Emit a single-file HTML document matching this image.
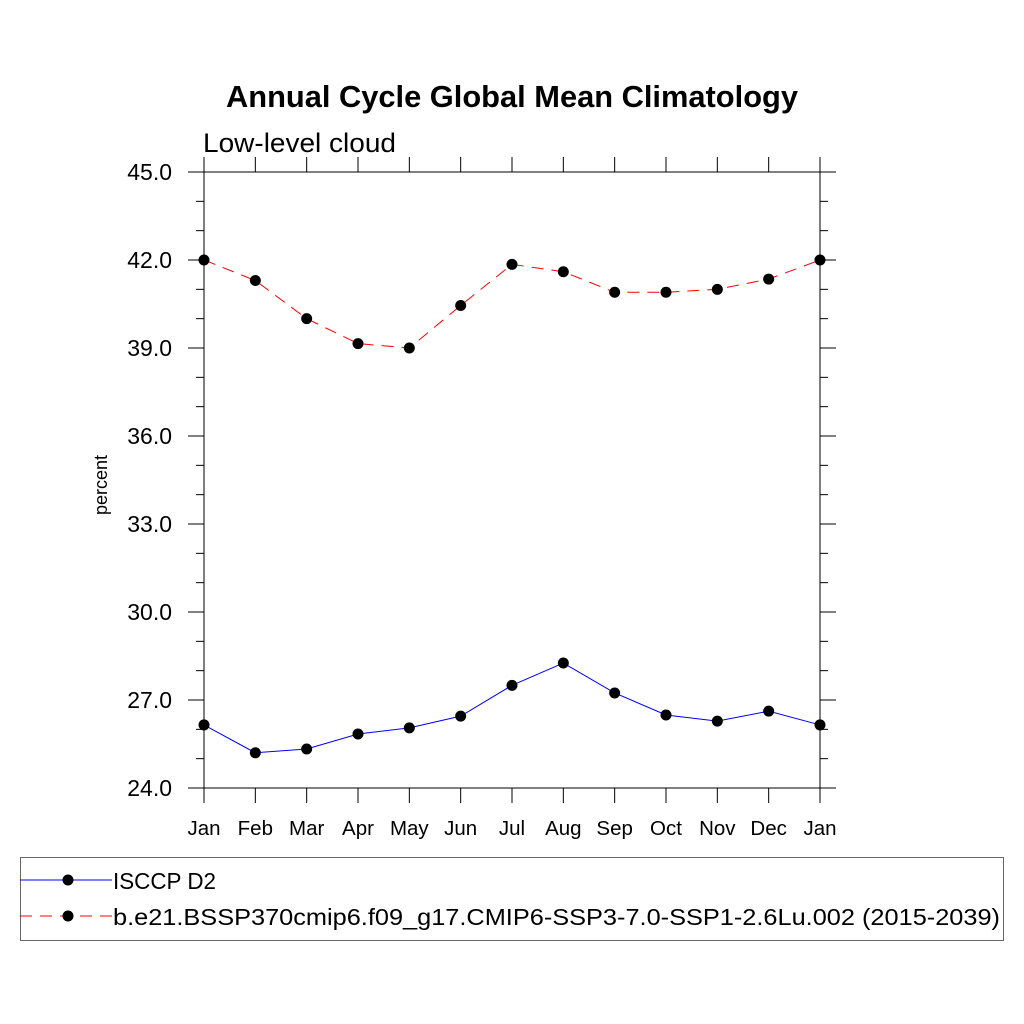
<!DOCTYPE html>
<html><head><meta charset="utf-8"><style>
html,body{margin:0;padding:0;background:#fff;}
svg{display:block;font-family:"Liberation Sans",sans-serif;}
</style></head><body>
<svg id="chart" width="1024" height="1024" viewBox="0 0 1024 1024">
<text x="512" y="107" text-anchor="middle" font-size="30.5" font-weight="bold" textLength="572" lengthAdjust="spacingAndGlyphs">Annual Cycle Global Mean Climatology</text>
<text x="203" y="152" font-size="27" textLength="193" lengthAdjust="spacingAndGlyphs">Low-level cloud</text>
<text transform="translate(107,485) rotate(-90)" text-anchor="middle" font-size="18">percent</text>
<g id="axes"></g>
<g id="series"></g>
<rect x="20.5" y="857.5" width="983" height="83" fill="none" stroke="#666" stroke-width="1"/>
<g>
<line x1="20" y1="880" x2="112" y2="880" stroke="#0000ff" stroke-width="1"/>
<circle cx="68" cy="880" r="5.5" fill="#000"/>
<text x="113" y="889" font-size="23" textLength="103" lengthAdjust="spacingAndGlyphs">ISCCP D2</text>
</g>
<g>
<line x1="20" y1="916" x2="112" y2="916" stroke="#ff0000" stroke-width="1" stroke-dasharray="12,8"/>
<circle cx="68" cy="916" r="5.5" fill="#000"/>
<text x="113" y="925" font-size="23" textLength="887" lengthAdjust="spacingAndGlyphs">b.e21.BSSP370cmip6.f09_g17.CMIP6-SSP3-7.0-SSP1-2.6Lu.002 (2015-2039)</text>
</g>
</svg>
<script>
const months = ["Jan","Feb","Mar","Apr","May","Jun","Jul","Aug","Sep","Oct","Nov","Dec","Jan"];
const isccp = [26.15,25.2,25.33,25.84,26.05,26.45,27.5,28.26,27.24,26.49,26.28,26.62,26.15];
const model = [42.0,41.3,40.0,39.15,39.0,40.45,41.85,41.6,40.9,40.9,41.0,41.35,42.0];
const yTicks = [24,27,30,33,36,39,42,45];
const yMin = 24, yMax = 45;
const L=204,R=820,T=172,B=788;
const NS="http://www.w3.org/2000/svg";
function xs(i){return L+(R-L)*i/(months.length-1);}
function ys(v){return B-(B-T)*(v-yMin)/(yMax-yMin);}
function mk(tag,attrs,parent){const e=document.createElementNS(NS,tag);for(const k in attrs)e.setAttribute(k,attrs[k]);parent.appendChild(e);return e;}
const ax=document.getElementById('axes');
const st={stroke:"#000","stroke-width":1};
let fr=mk('rect',{x:L,y:T,width:R-L,height:B-T,fill:"none",stroke:"#000","stroke-width":1},ax);


months.forEach((m,i)=>{
  const x=xs(i);
  mk('line',Object.assign({x1:x,x2:x,y1:B,y2:B+15},st),ax);
  mk('line',Object.assign({x1:x,x2:x,y1:T,y2:T-15},st),ax);
  const t=mk('text',{x:x,y:835,"text-anchor":"middle","font-size":20.5},ax);
  t.textContent=m;
  
  
});
for(let v=yMin;v<=yMax;v+=1){
  const y=ys(v);
  const major=yTicks.includes(v);
  const len=major?16:8;
  mk('line',Object.assign({x1:L-len,x2:L,y1:y,y2:y},st),ax);
  mk('line',Object.assign({x1:R,x2:R+len,y1:y,y2:y},st),ax);
}
yTicks.forEach(v=>{
  const t=mk('text',{x:172,y:ys(v)+8,"text-anchor":"end","font-size":23},ax);
  t.textContent=v.toFixed(1);
  
  
});
const sg=document.getElementById('series');
function drawSeries(vals,color,dash,name){
  const g=mk('g',{},sg);
  
  
  const pts=vals.map((v,i)=>xs(i)+","+ys(v)).join(" ");
  const a={points:pts,fill:"none",stroke:color,"stroke-width":1};
  if(dash)a["stroke-dasharray"]=dash;
  mk('polyline',a,g);
  vals.forEach((v,i)=>{
    const c=mk('circle',{cx:xs(i),cy:ys(v),r:5.5,fill:"#000"},g);
    
    
  });
}
drawSeries(isccp,"#0000ff",null,"isccp-series");
drawSeries(model,"#ff0000","12,8","model-series");
</script>
</body></html>
